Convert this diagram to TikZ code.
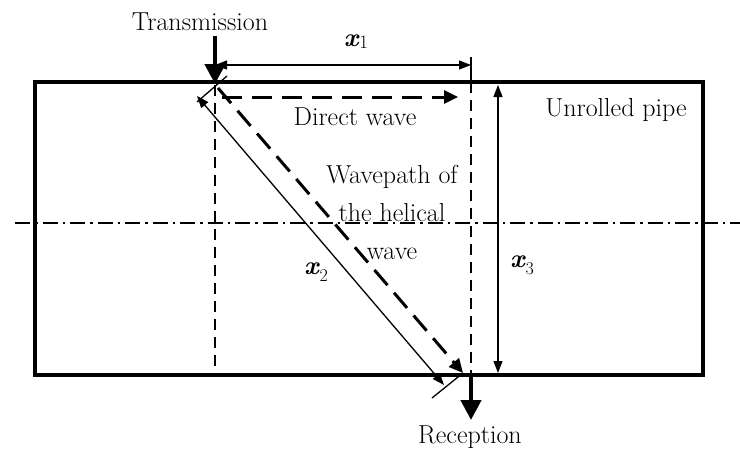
\documentclass[tikz,border=0pt]{standalone}
\usepackage{fontspec}
\setmainfont{Latin Modern Roman}
\usetikzlibrary{arrows.meta}
\begin{document}
\begin{tikzpicture}[x=1pt,y=-1pt,
  lbl/.style={inner sep=0pt,font=\fontsize{26}{30}\selectfont},
  thinarrow/.style={line width=1.3pt,{Triangle[length=12pt,width=9pt]}-{Triangle[length=12pt,width=9pt]}},
  bigarrow/.style={line width=4.5pt,-{Triangle[length=20pt,width=20pt]}},
  guide/.style={line width=1.8pt,dash pattern=on 11pt off 7pt},
  wave/.style={line width=3pt,dash pattern=on 20pt off 10pt,-{Triangle[length=14pt,width=13pt]}},
  center/.style={line width=1.4pt,dash pattern=on 15pt off 5pt on 2.5pt off 5pt}]
\useasboundingbox (0,0) rectangle (740,450);
% pipe
\draw[line width=4pt] (35,82) rectangle (703,375);
\coordinate (cl) at (15,223);
\coordinate (cr) at (740,223);
\draw[center] (cl) -- (cr);
% guides
\coordinate (g1t) at (215,85);
\coordinate (g1b) at (215,375);
\draw[guide] (g1t) -- (g1b);
\coordinate (g2t) at (471,57);
\coordinate (g2m) at (471,82);
\coordinate (g2b) at (471,375);
\draw[line width=1.5pt] (g2t) -- (g2m);
\draw[guide] (g2m) -- (g2b);
% x1
\coordinate (x1a) at (215,65);
\coordinate (x1b) at (471,65);
\draw[thinarrow] (x1a) -- (x1b);
\node[lbl] (x1l) at (356,42) {\textbf{\textit{x}}\raisebox{-2pt}{\fontsize{19}{21}\selectfont 1}};
% x3
\coordinate (x3a) at (498,85);
\coordinate (x3b) at (498,373);
\draw[thinarrow] (x3a) -- (x3b);
\node[lbl] (x3l) at (522,265) {\textbf{\textit{x}}\raisebox{-7pt}{\fontsize{18}{20}\selectfont 3}};
% transmission
\node[lbl] (tr) at (200,22) {Transmission};
\coordinate (ta) at (215,36);
\coordinate (tb) at (215,84);
\draw[bigarrow] (ta) -- (tb);
% reception
\coordinate (ra) at (471,377);
\coordinate (rb) at (471,420);
\draw[bigarrow] (ra) -- (rb);
\node[lbl] (rc) at (470,437) {Reception};
% ticks
\coordinate (k1a) at (197,102);
\coordinate (k1b) at (227,76);
\draw[line width=1.3pt] (k1a) -- (k1b);
\coordinate (k2a) at (432,398);
\coordinate (k2b) at (463,373);
\draw[line width=1.3pt] (k2a) -- (k2b);
% direct wave
\coordinate (da) at (222,97);
\coordinate (db) at (458,97);
\draw[wave] (da) -- (db);
\node[lbl] (dl) at (355,117) {Direct wave};
% helical wave
\coordinate (ha) at (218,88);
\coordinate (hb) at (463,373);
\draw[wave] (ha) -- (hb);
\coordinate (sa) at (197,96);
\coordinate (sb) at (444,385);
\draw[thinarrow] (sa) -- (sb);
\node[lbl] (x2l) at (316,272) {\textbf{\textit{x}}\raisebox{-7pt}{\fontsize{18}{20}\selectfont 2}};
\node[lbl,align=center] (wl) at (392,212) {Wavepath of\\[8pt]the helical\\[8pt]wave};
\node[lbl] (up) at (616,110) {Unrolled pipe};
\end{tikzpicture}
\end{document}
